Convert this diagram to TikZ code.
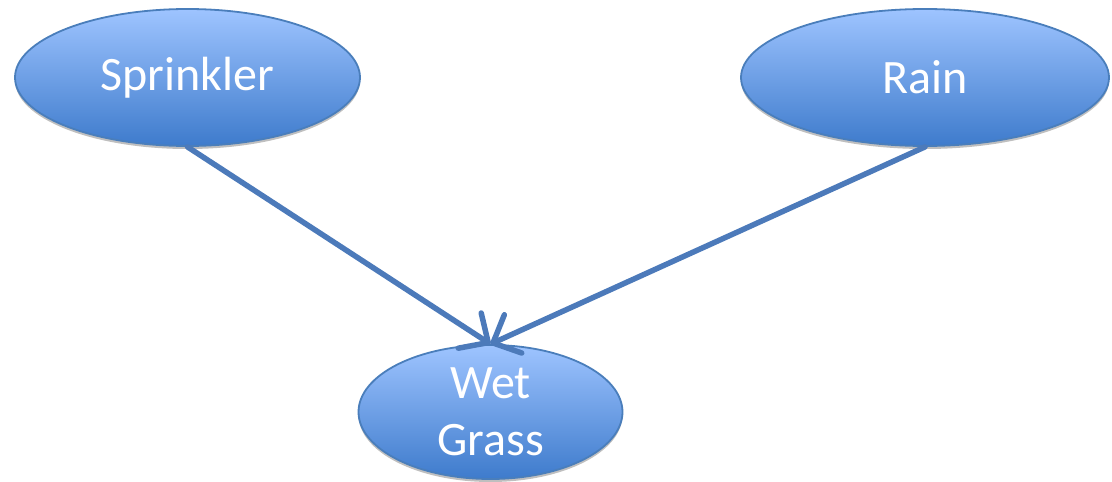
\documentclass[tikz,border=0pt]{standalone}
\usepackage{fontspec}
\setmainfont{Carlito}
\usetikzlibrary{shapes.geometric,arrows.meta,shadows}
\definecolor{nodetop}{RGB}{158,196,255}
\definecolor{nodebottom}{RGB}{62,123,204}
\definecolor{nodeedge}{RGB}{74,126,187}
\definecolor{linkblue}{RGB}{76,122,186}
\tikzset{
  varnode/.style={ellipse, draw=nodeedge, line width=1.8pt,
    top color=nodetop, bottom color=nodebottom,
    text=white, inner sep=0pt, align=center,
    font=\fontsize{48}{57}\selectfont,
    drop shadow={shadow xshift=0pt, shadow yshift=-3pt, opacity=0.25, fill=black}},
  link/.style={draw=linkblue, line width=5.5pt, line cap=round,
    -{Straight Barb[length=22pt,width=42pt,line width=5.5pt,round]}}
}
\begin{document}
\begin{tikzpicture}[x=1pt,y=-1pt]
\useasboundingbox (0,0) rectangle (1112,482);
\node[varnode, minimum width=345pt, minimum height=137pt] (spr) at (187.5,77.5) {Sprinkler};
\node[varnode, minimum width=368pt, minimum height=137pt] (rain) at (925,77.5) {Rain};
\node[varnode, minimum width=264pt, minimum height=134pt] (wet) at (490.5,412) {Wet\\Grass};
\draw[link] (spr.south) -- (wet.north);
\draw[link] (rain.south) -- (wet.north);
\end{tikzpicture}
\end{document}
